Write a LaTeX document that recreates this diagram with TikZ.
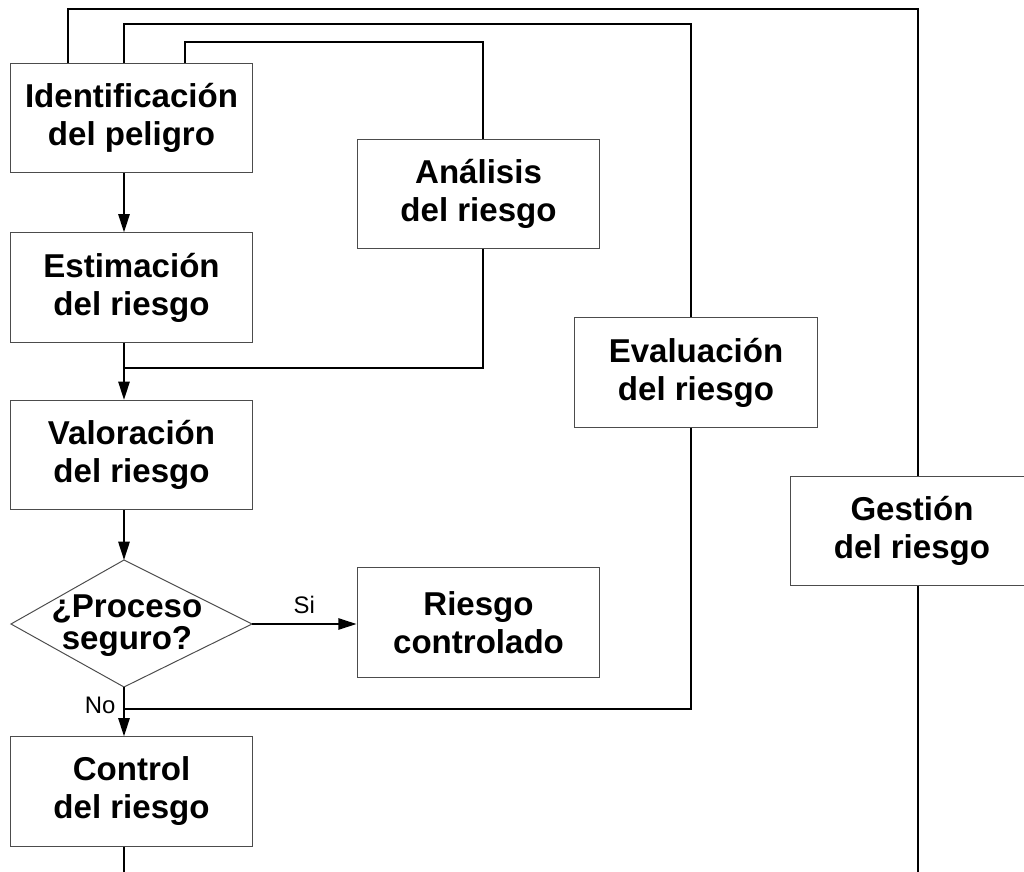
\documentclass[tikz,border=0pt]{standalone}
\usepackage{fontspec}
\setmainfont{Liberation Sans}
\usetikzlibrary{arrows.meta}
\begin{document}
\begin{tikzpicture}[x=0.025cm, y=-0.025cm,
  caja/.style={draw=black!70, line width=0.7pt, fill=white, minimum width=6.07cm, minimum height=2.73cm,
    align=center, inner sep=0pt, font=\fontsize{23.5}{27}\selectfont\bfseries},
  linea/.style={line width=1.4pt},
  flecha/.style={line width=1.4pt, -{Triangle[length=13pt,width=8pt]}},
  etiqueta/.style={font=\fontsize{17}{20}\selectfont}]
\useasboundingbox (0,0) rectangle (1024,872);

\node[caja] (ident) at (131.5,118) {Identificación\\del peligro};
\node[caja] (estim) at (131.5,287.5) {Estimación\\del riesgo};
\node[caja] (valor) at (131.5,455) {Valoración\\del riesgo};
\node[caja] (control) at (131.5,791.5) {Control\\del riesgo};
\node[caja] (analisis) at (478.5,194) {Análisis\\del riesgo};
\node[caja] (riesgo) at (478.5,622.5) {Riesgo\\controlado};
\node[caja] (evalua) at (696,372.5) {Evaluación\\del riesgo};
\node[caja] (gestion) at (912,531) {Gestión\\del riesgo};

\coordinate (dn) at (124,560);
\coordinate (de) at (252,624);
\coordinate (ds) at (124,687);
\coordinate (dw) at (11,624);
\draw[draw=black!70, line width=0.7pt] (dn) -- (de) -- (ds) -- (dw) -- cycle;
\node[align=center, inner sep=0pt, font=\fontsize{23.5}{22.7}\selectfont\bfseries] (proceso) at (127,626) {¿Proceso\\seguro?};

\coordinate (eje) at (124,0);
\draw[flecha] (ident.south -| eje) -- (estim.north -| eje);
\draw[flecha] (estim.south -| eje) -- (valor.north -| eje);
\draw[flecha] (valor.south -| eje) -- (dn);
\draw[flecha] (ds) -- (control.north -| eje) node[pos=0.38, left=2pt, etiqueta] {No};
\draw[flecha] (de) -- (riesgo.west |- de) node[midway, above=3pt, etiqueta] {Si};

\coordinate (a1) at (483,42);
\coordinate (a2) at (185,42);
\coordinate (a3) at (483,368);
\draw[linea] (analisis.north -| a1) -- (a1) -- (a2) -- (a2 |- ident.north);
\draw[linea] (analisis.south -| a1) -- (a3) -- (a3 -| eje);

\coordinate (e1) at (691,24);
\coordinate (e2) at (124,24);
\coordinate (e3) at (691,709);
\draw[linea] (evalua.north -| e1) -- (e1) -- (e2) -- (ident.north -| eje);
\draw[linea] (evalua.south -| e1) -- (e3) -- (e3 -| eje);

\coordinate (g1) at (918,9);
\coordinate (g2) at (68,9);
\coordinate (g3) at (918,880);
\draw[linea] (gestion.north -| g1) -- (g1) -- (g2) -- (g2 |- ident.north);
\draw[linea] (gestion.south -| g1) -- (g3);

\coordinate (fin) at (124,880);
\draw[linea] (control.south -| eje) -- (fin);
\end{tikzpicture}
\end{document}
